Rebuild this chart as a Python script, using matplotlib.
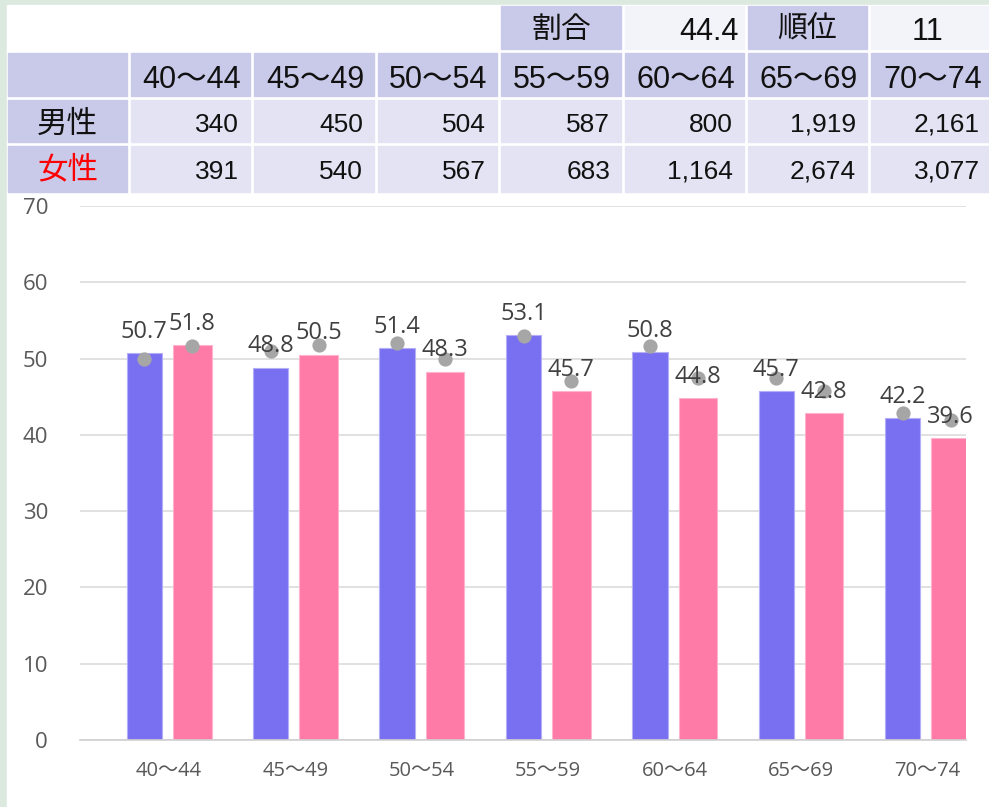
import matplotlib
matplotlib.use('Agg')
import matplotlib.pyplot as plt
from matplotlib.patches import Rectangle
import numpy as np

# ---------------- data ----------------
categories = ['40～44', '45～49', '50～54', '55～59', '60～64', '65～69', '70～74']
male_counts = [340, 450, 504, 587, 800, 1919, 2161]
female_counts = [391, 540, 567, 683, 1164, 2674, 3077]
male_rate = [50.7, 48.8, 51.4, 53.1, 50.8, 45.7, 42.2]
female_rate = [51.8, 50.5, 48.3, 45.7, 44.8, 42.8, 39.6]
male_ref = [49.9, 51.0, 52.1, 52.9, 51.6, 47.4, 42.9]
female_ref = [51.6, 51.8, 49.9, 47.1, 47.4, 45.7, 42.0]
ratio_label, ratio_value = '割合', 44.4
rank_label, rank_value = '順位', 11
row_labels = ['男性', '女性']
y_ticks = [0, 10, 20, 30, 40, 50, 60, 70]

# ---------------- style ----------------
MALE_C = '#7870F0'
FEMALE_C = '#FF7BA7'
DOT_C = '#A6A6A6'
HEAD_C = '#C9C9E9'
CELL_C = '#E3E3F3'
LIGHT_C = '#F3F3FA'
TXT_FONT = ['Liberation Sans', 'Noto Sans CJK JP']
CJK_FONT = ['Noto Sans CJK JP', 'DejaVu Sans']
CHART_FONT = ['Open Sans', 'Noto Sans CJK JP']

W, H = 989, 807
fig = plt.figure(figsize=(W / 100, H / 100), dpi=100, facecolor='#DCE9DF')

# background / table layer in pixel coordinates
bg = fig.add_axes([0, 0, 1, 1])
bg.set_xlim(0, W)
bg.set_ylim(H, 0)
bg.axis('off')
bg.add_patch(Rectangle((7, 5), W - 7, H - 5, color='white', zorder=0))

col_x = [(8, 127), (131, 250), (254, 374), (378, 497), (501, 621),
         (625, 744), (748, 867), (871, 992)]
rows_y = [(6, 49), (53, 96), (100, 142), (146, 192)]


def cell(c, r, color):
    x0, x1 = col_x[c]
    y0, y1 = rows_y[r]
    bg.add_patch(Rectangle((x0, y0), x1 - x0, y1 - y0, color=color, zorder=1))


# row 0 : ratio / rank
cell(4, 0, HEAD_C)
cell(5, 0, LIGHT_C)
cell(6, 0, HEAD_C)
cell(7, 0, LIGHT_C)
bg.text(sum(col_x[4]) / 2, 29, ratio_label, ha='center', va='center',
        fontsize=21.5, family=CJK_FONT, color='#111111', zorder=2)
bg.text(col_x[5][1] - 5, 39.5, f'{ratio_value:.1f}', ha='right', va='baseline',
        fontsize=22, family=TXT_FONT, color='#111111', zorder=2)
bg.text(sum(col_x[6]) / 2, 29, rank_label, ha='center', va='center',
        fontsize=21.5, family=CJK_FONT, color='#111111', zorder=2)
bg.text(928, 39.5, f'{rank_value}', ha='center', va='baseline',
        fontsize=22, family=TXT_FONT, color='#111111', zorder=2)

# row 1 : headers
cell(0, 1, HEAD_C)
for i, cat in enumerate(categories):
    cell(i + 1, 1, HEAD_C)
    bg.text(sum(col_x[i + 1]) / 2 + 1, 87.5, cat, ha='center', va='baseline',
            fontsize=22, family=TXT_FONT, color='#111111', zorder=2)

# rows 2,3 : counts
for r, (lab, vals, lc, ty) in enumerate(zip(row_labels, [male_counts, female_counts],
                                            ['#111111', '#FF0000'], [124, 170])):
    cell(0, r + 2, HEAD_C)
    bg.text(sum(col_x[0]) / 2, ty, lab, ha='center', va='center', fontsize=22,
            family=CJK_FONT, color=lc, zorder=2)
    base = [131.5, 179][r]
    for i, v in enumerate(vals):
        cell(i + 1, r + 2, CELL_C)
        right = col_x[i + 1][1] - 11 if i < 6 else 980
        bg.text(right, base, f'{v:,}', ha='right', va='baseline', fontsize=19,
                family=TXT_FONT, color='#111111', zorder=2)

# ---------------- chart ----------------
ax = fig.add_axes([80 / W, (H - 740) / H, 886 / W, 534 / H])
ax.set_facecolor('none')
x = np.arange(len(categories))
off_m, off_f = -0.195, 0.184
ax.bar(x + off_m, male_rate, width=0.28, color=MALE_C, edgecolor='#B4AEF8',
       linewidth=0.8, zorder=2)
ax.bar(x + off_f, female_rate, width=0.305, color=FEMALE_C, edgecolor='#FFB3CC',
       linewidth=0.8, zorder=2)
ax.scatter(x + off_m, male_ref, s=105, color=DOT_C, zorder=3, linewidths=0)
ax.scatter(x + off_f, female_ref, s=105, color=DOT_C, zorder=3, linewidths=0)

for xs, vals in [(x + off_m, male_rate), (x + off_f, female_rate)]:
    for xi, v in zip(xs, vals):
        ax.annotate(f'{v:.1f}', (xi, v), xytext=(0, 11), textcoords='offset points',
                    ha='center', va='baseline', fontsize=17, family=CHART_FONT,
                    color='#404040', zorder=4)

ax.set_xlim(-0.704, 6.306)
ax.set_ylim(0, 70)
ax.set_yticks(y_ticks)
ax.set_xticks(x)
ax.set_xticklabels(categories, family=CHART_FONT, fontsize=14.5, color='#595959')
ax.tick_params(axis='y', length=0, pad=23, labelsize=16, labelcolor='#595959')
for t in ax.get_yticklabels():
    t.set_family(CHART_FONT)
ax.tick_params(axis='x', length=0, pad=15)
ax.grid(axis='y', color='#D9D9D9', linewidth=1.1, zorder=0)
ax.set_axisbelow(True)
for s in ['top', 'right', 'left']:
    ax.spines[s].set_visible(False)
ax.spines['bottom'].set_color('#D0D0D0')
ax.spines['bottom'].set_linewidth(1.2)

fig.savefig('out.png', dpi=100)
